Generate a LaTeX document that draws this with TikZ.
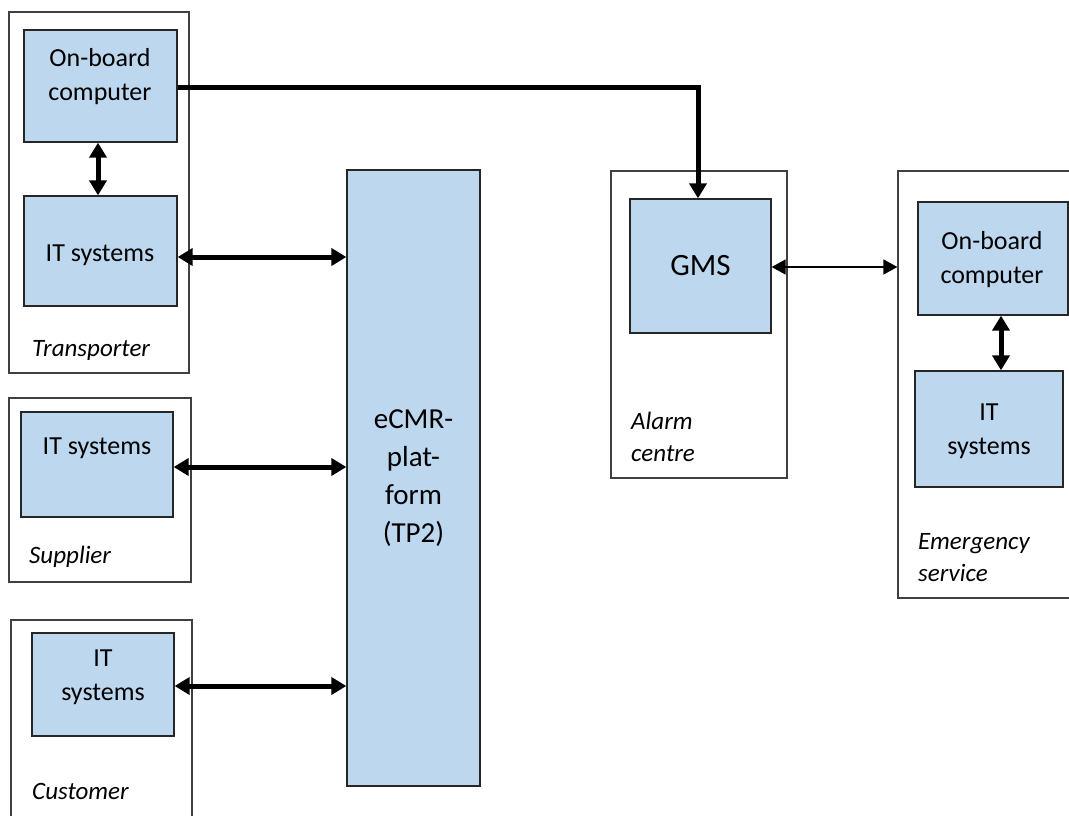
\documentclass[tikz,border=0pt]{standalone}
\usepackage{fontspec}
\setmainfont{Carlito}
\usetikzlibrary{arrows.meta}
\definecolor{boxblue}{HTML}{BDD7EE}
\definecolor{outerline}{HTML}{404040}
\definecolor{innerline}{HTML}{262626}
\tikzset{
  outerbox/.style={draw=outerline, line width=1.2pt, fill=white, inner sep=0pt},
  bluebox/.style={draw=innerline, line width=1.3pt, fill=boxblue, inner sep=0pt, align=center, font=\fontsize{26}{34}\selectfont},
  boxtext/.style={font=\fontsize{26}{34}\selectfont, align=center, inner sep=0pt},
  grouplabel/.style={font=\fontsize{25}{32}\selectfont\itshape, align=left, anchor=west, inner sep=0pt},
  thickhead/.tip={Triangle[length=15pt,width=17pt]},
  thinhead/.tip={Triangle[length=14pt,width=15pt]},
  thickarrow/.style={line width=5pt, thickhead-thickhead},
  thickone/.style={line width=5pt, -thickhead, line join=miter},
  thinarrow/.style={line width=1.3pt, thinhead-thinhead},
}
\begin{document}
\begin{tikzpicture}[x=1pt, y=-1pt]
\clip (0,0) rectangle (1069,815);
\fill[white] (0,0) rectangle (1069,815);

% outer group boxes
\node[outerbox, minimum width=180pt, minimum height=361pt] (trans) at (99,192.5) {};
\node[outerbox, minimum width=182pt, minimum height=184pt] (supp) at (100,490) {};
\node[outerbox, minimum width=181pt, minimum height=220pt] (cust) at (101.5,730) {};
\node[outerbox, minimum width=176pt, minimum height=307pt] (alarm) at (699,324.5) {};
\node[outerbox, minimum width=192pt, minimum height=427pt] (emerg) at (994,384.5) {};

% blue boxes
\node[bluebox, minimum width=153pt, minimum height=112pt] (obcT) at (100.5,86) {};
\node[boxtext] (obcTtext) at (100,77) {On-board\\computer};
\node[bluebox, minimum width=153pt, minimum height=110pt] (itT) at (100.5,251) {};
\node[boxtext] (itTtext) at (100,255) {IT systems};
\node[bluebox, minimum width=152pt, minimum height=105pt] (itS) at (97,464.5) {};
\node[boxtext] (itStext) at (97,448) {IT systems};
\node[bluebox, minimum width=142pt, minimum height=103pt] (itC) at (103,684.5) {};
\node[boxtext] (itCtext) at (103,677.5) {IT\\systems};
\node[bluebox, minimum width=133pt, minimum height=616pt, font=\fontsize{29}{38}\selectfont] (ecmr) at (413.5,478) {eCMR-\\plat-\\form\\(TP2)};
\node[bluebox, minimum width=141pt, minimum height=134pt, font=\fontsize{31}{37}\selectfont] (gms) at (700.5,266) {GMS};
\node[bluebox, minimum width=150pt, minimum height=113pt] (obcE) at (993,258.5) {};
\node[boxtext] (obcEtext) at (992,259.5) {On-board\\computer};
\node[bluebox, minimum width=148pt, minimum height=116pt] (itE) at (989,429) {};
\node[boxtext] (itEtext) at (989,431) {IT\\systems};

% group labels
\node[grouplabel] (transL) at (32,350) {Transporter};
\node[grouplabel] (suppL) at (29,557) {Supplier};
\node[grouplabel] (custL) at (32,791) {Customer};
\node[grouplabel] (alarmL) at (631,436.5) {Alarm\\centre};
\node[grouplabel] (emergL) at (918,557.5) {Emergency\\service};

% connectors
\draw[thickarrow] (98,0 |- obcT.south) -- (98,0 |- itT.north);
\draw[thickarrow] (itT.east |- 0,257) -- (ecmr.west |- 0,257);
\draw[thickarrow] (itS.east |- 0,467) -- (ecmr.west |- 0,467);
\draw[thickarrow] (itC.east |- 0,686) -- (ecmr.west |- 0,686);
\draw[thickone] (obcT.east |- 0,87) -| (698,0 |- gms.north);
\draw[thinarrow] (gms.east |- 0,267) -- (emerg.west |- 0,267);
\draw[thickarrow] (1001,0 |- obcE.south) -- (1001,0 |- itE.north);
\end{tikzpicture}
\end{document}
